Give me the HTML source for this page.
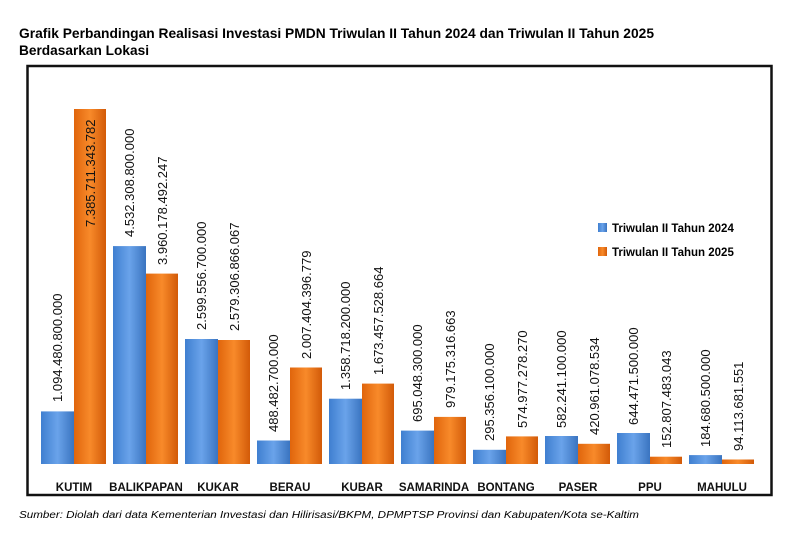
<!DOCTYPE html>
<html><head><meta charset="utf-8"><style>
html,body{margin:0;padding:0;background:#fff;}
svg{display:block;font-family:"Liberation Sans",sans-serif;}
</style></head><body>
<svg width="800" height="543" viewBox="0 0 800 543">
<defs>
<linearGradient id="b" x1="0" x2="1" y1="0" y2="0"><stop offset="0" stop-color="#3f7fd0"/><stop offset="0.5" stop-color="#6aa3ea"/><stop offset="1" stop-color="#3a74c0"/></linearGradient>
<linearGradient id="o" x1="0" x2="1" y1="0" y2="0"><stop offset="0" stop-color="#e0650c"/><stop offset="0.5" stop-color="#f88a2a"/><stop offset="1" stop-color="#d25a08"/></linearGradient>
</defs>
<text x="19" y="38" font-size="14" font-weight="bold" textLength="635" lengthAdjust="spacingAndGlyphs">Grafik Perbandingan Realisasi Investasi PMDN Triwulan II Tahun 2024 dan Triwulan II Tahun 2025</text>
<text x="19" y="55" font-size="14" font-weight="bold" textLength="130" lengthAdjust="spacingAndGlyphs">Berdasarkan Lokasi</text>
<rect x="27.5" y="66" width="744" height="429" fill="#fff" stroke="#111" stroke-width="2.5"/>
<g>
<rect x="41" y="411.4" width="33" height="52.6" fill="url(#b)"/><rect x="74" y="109" width="32" height="355" fill="url(#o)"/>
<rect x="113" y="246.1" width="33" height="217.9" fill="url(#b)"/><rect x="146" y="273.6" width="32" height="190.4" fill="url(#o)"/>
<rect x="185" y="339" width="33" height="125" fill="url(#b)"/><rect x="218" y="340" width="32" height="124" fill="url(#o)"/>
<rect x="257" y="440.5" width="33" height="23.5" fill="url(#b)"/><rect x="290" y="367.5" width="32" height="96.5" fill="url(#o)"/>
<rect x="329" y="398.7" width="33" height="65.3" fill="url(#b)"/><rect x="362" y="383.6" width="32" height="80.4" fill="url(#o)"/>
<rect x="401" y="430.6" width="33" height="33.4" fill="url(#b)"/><rect x="434" y="416.9" width="32" height="47.1" fill="url(#o)"/>
<rect x="473" y="449.8" width="33" height="14.2" fill="url(#b)"/><rect x="506" y="436.4" width="32" height="27.6" fill="url(#o)"/>
<rect x="545" y="436" width="33" height="28" fill="url(#b)"/><rect x="578" y="443.8" width="32" height="20.2" fill="url(#o)"/>
<rect x="617" y="433" width="33" height="31" fill="url(#b)"/><rect x="650" y="456.7" width="32" height="7.3" fill="url(#o)"/>
<rect x="689" y="455.1" width="33" height="8.9" fill="url(#b)"/><rect x="722" y="459.5" width="32" height="4.5" fill="url(#o)"/>
</g>
<g font-size="13" fill="#111">
<text transform="translate(62,402) rotate(-90)">1.094.480.800.000</text>
<text transform="translate(95,227) rotate(-90)">7.385.711.343.782</text>
<text transform="translate(134,237) rotate(-90)">4.532.308.800.000</text>
<text transform="translate(167,265) rotate(-90)">3.960.178.492.247</text>
<text transform="translate(206,330) rotate(-90)">2.599.556.700.000</text>
<text transform="translate(239,331) rotate(-90)">2.579.306.866.067</text>
<text transform="translate(278,432) rotate(-90)">488.482.700.000</text>
<text transform="translate(311,359) rotate(-90)">2.007.404.396.779</text>
<text transform="translate(350,390) rotate(-90)">1.358.718.200.000</text>
<text transform="translate(383,375) rotate(-90)">1.673.457.528.664</text>
<text transform="translate(422,422) rotate(-90)">695.048.300.000</text>
<text transform="translate(455,408) rotate(-90)">979.175.316.663</text>
<text transform="translate(494,441) rotate(-90)">295.356.100.000</text>
<text transform="translate(527,428) rotate(-90)">574.977.278.270</text>
<text transform="translate(566,428) rotate(-90)">582.241.100.000</text>
<text transform="translate(599,435) rotate(-90)">420.961.078.534</text>
<text transform="translate(638,425) rotate(-90)">644.471.500.000</text>
<text transform="translate(671,448) rotate(-90)">152.807.483.043</text>
<text transform="translate(710,447) rotate(-90)">184.680.500.000</text>
<text transform="translate(743,451) rotate(-90)">94.113.681.551</text>
</g>
<g font-size="11.5" font-weight="bold" text-anchor="middle" fill="#111">
<text x="74" y="491">KUTIM</text>
<text x="146" y="491">BALIKPAPAN</text>
<text x="218" y="491">KUKAR</text>
<text x="290" y="491">BERAU</text>
<text x="362" y="491">KUBAR</text>
<text x="434" y="491">SAMARINDA</text>
<text x="506" y="491">BONTANG</text>
<text x="578" y="491">PASER</text>
<text x="650" y="491">PPU</text>
<text x="722" y="491">MAHULU</text>
</g>
<rect x="598" y="223" width="9" height="9" fill="url(#b)"/>
<text x="612" y="232" font-size="11.5" font-weight="bold">Triwulan II Tahun 2024</text>
<rect x="598" y="247" width="9" height="9" fill="url(#o)"/>
<text x="612" y="256" font-size="11.5" font-weight="bold">Triwulan II Tahun 2025</text>
<text x="19" y="518" font-size="10" font-style="italic" textLength="620" lengthAdjust="spacingAndGlyphs">Sumber: Diolah dari data Kementerian Investasi dan Hilirisasi/BKPM, DPMPTSP Provinsi dan Kabupaten/Kota se-Kaltim</text>
</svg>
</body></html>
